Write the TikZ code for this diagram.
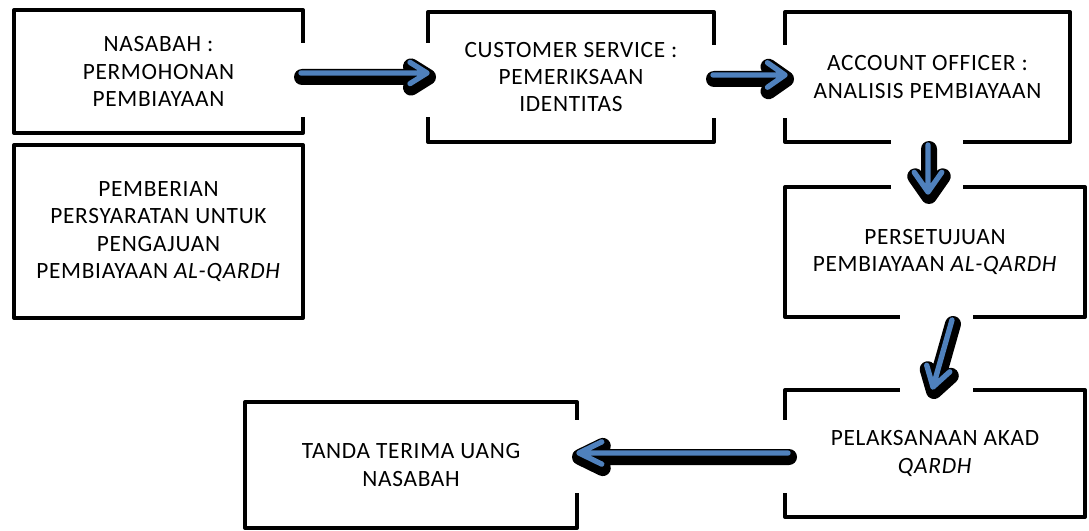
\documentclass[tikz,border=0pt]{standalone}
\usepackage{fontspec}
\setmainfont{Carlito}[LetterSpace=3.0]
\usetikzlibrary{calc}
\definecolor{arrowblue}{RGB}{79,129,189}
\tikzset{
  boxstyle/.style={draw=black, line width=3pt, line join=round, align=center,
    inner sep=0pt, font=\fontsize{17.5}{20.5}\selectfont},
  gapfill/.style={fill=white, draw=none},
  shadowline/.style={draw=black, line width=12pt, line cap=round, line join=round},
  blueline/.style={draw=arrowblue, line width=4pt, line cap=round, line join=round},
}
\newcommand\fancyarrow[5]{%
  \coordinate (#1l) at ($(#3)!#4!#5:(#2)$);
  \coordinate (#1r) at ($(#3)!#4!-#5:(#2)$);
  \draw[shadowline] ([shift={(1,4)}]#1l) -- ([shift={(1,4)}]#3) -- ([shift={(1,4)}]#1r)
    ([shift={(1,4)}]#2) -- ([shift={(1,4)}]#3);
  \draw[blueline] (#1l) -- (#3) -- (#1r) (#2) -- (#3);
}
\begin{document}
\begin{tikzpicture}[x=0.75pt,y=-0.75pt]
\useasboundingbox (0,0) rectangle (1089,531);
% boxes
\node[boxstyle, minimum width={289*0.75pt}, minimum height={123*0.75pt}] (b1) at (158.5,71.5)
  {NASABAH :\\PERMOHONAN\\PEMBIAYAAN};
\node[boxstyle, minimum width={289*0.75pt}, minimum height={173*0.75pt}] (b2) at (158.5,231.5)
  {PEMBERIAN\\PERSYARATAN UNTUK\\PENGAJUAN\\PEMBIAYAAN \textit{AL-QARDH}};
\node[boxstyle, minimum width={286*0.75pt}, minimum height={130*0.75pt}] (b3) at (571,77)
  {CUSTOMER SERVICE :\\PEMERIKSAAN\\IDENTITAS};
\node[boxstyle, minimum width={285*0.75pt}, minimum height={130*0.75pt}] (b4) at (927.5,77)
  {ACCOUNT OFFICER :\\ANALISIS PEMBIAYAAN};
\node[boxstyle, minimum width={300*0.75pt}, minimum height={130*0.75pt}] (b5) at (935,252)
  {PERSETUJUAN\\PEMBIAYAAN \textit{AL-QARDH}};
\node[boxstyle, minimum width={300*0.75pt}, minimum height={127*0.75pt}] (b6) at (935,453.5)
  {PELAKSANAAN AKAD\\\textit{QARDH}};
\node[boxstyle, minimum width={332*0.75pt}, minimum height={126*0.75pt}] (b7) at (411,465)
  {TANDA TERIMA UANG\\NASABAH};
% white backgrounds of the arrows
\fill[gapfill] (296,43) rectangle (436,117);
\fill[gapfill] (704,45) rectangle (795,118);
\fill[gapfill] (891,138) rectangle (963,191);
\fill[gapfill] (900,313) rectangle (973,394);
\fill[gapfill] (570,420) rectangle (795,493);
% arrow ends
\coordinate (a1t) at (301,73);  \coordinate (a1h) at (427,73);
\coordinate (a2t) at (713,75);  \coordinate (a2h) at (785,75);
\coordinate (a3t) at (928,145); \coordinate (a3h) at (928,192);
\coordinate (a4t) at (952,320); \coordinate (a4h) at (933,387);
\coordinate (a5t) at (788,453); \coordinate (a5h) at (579,453);
\fancyarrow{a1}{a1t}{a1h}{15pt}{32}
\fancyarrow{a2}{a2t}{a2h}{16pt}{35}
\fancyarrow{a3}{a3t}{a3h}{18pt}{35}
\fancyarrow{a4}{a4t}{a4h}{17pt}{32}
\fancyarrow{a5}{a5t}{a5h}{19pt}{26}
\end{tikzpicture}
\end{document}
